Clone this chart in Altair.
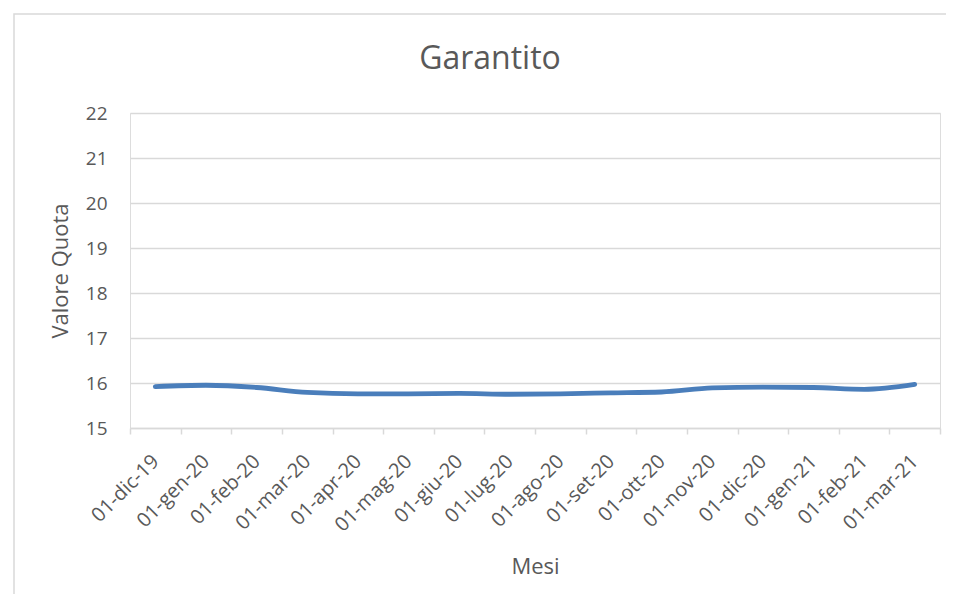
import altair as alt
import pandas as pd

mesi = ["01-dic-19", "01-gen-20", "01-feb-20", "01-mar-20", "01-apr-20", "01-mag-20",
        "01-giu-20", "01-lug-20", "01-ago-20", "01-set-20", "01-ott-20", "01-nov-20",
        "01-dic-20", "01-gen-21", "01-feb-21", "01-mar-21"]
valori = [15.92, 15.95, 15.90, 15.79, 15.76, 15.76, 15.77, 15.75,
          15.76, 15.78, 15.80, 15.89, 15.91, 15.90, 15.86, 15.97]
titolo = "Garantito"

df = pd.DataFrame({"Mesi": mesi, "Valore Quota": valori})

FONT = "Open Sans"
GREY = "#595959"
GRID = "#d9d9d9"

line = alt.Chart(df).mark_line(
    color="#4a7ebb", strokeWidth=4.8, strokeCap="round", strokeJoin="round",
    interpolate="monotone"
).encode(
    x=alt.X("Mesi:N", sort=None, bandPosition=0.5,
            scale=alt.Scale(type="band", paddingInner=0, paddingOuter=0),
            axis=alt.Axis(title="Mesi", labelAngle=-45, labelAlign="right",
                          labelBaseline="middle", labelPadding=24,
                          labelFont=FONT, labelFontSize=20, labelColor=GREY,
                          titleFont=FONT, titleFontSize=22, titleColor=GREY,
                          titleFontWeight="normal", titleY=145,
                          titleBaseline="alphabetic",
                          tickBand="extent", ticks=True, tickSize=6,
                          tickColor=GRID, tickWidth=1.5,
                          domainColor=GRID, domainWidth=1.5, grid=False)),
    y=alt.Y("Valore Quota:Q",
            scale=alt.Scale(domain=[15, 22], nice=False, zero=False),
            axis=alt.Axis(title="Valore Quota", values=list(range(15, 23)),
                          labelFont=FONT, labelFontSize=19, labelColor=GREY,
                          labelPadding=23,
                          titleFont=FONT, titleFontSize=22, titleColor=GREY,
                          titleFontWeight="normal", titleX=-63,
                          titleBaseline="alphabetic",
                          domain=False, ticks=False, grid=True,
                          gridColor=GRID, gridWidth=1.5)),
)

title = alt.Chart(alt.Data(values=[{}])).mark_text(
    font=FONT, fontSize=32, color=GREY, align="center", baseline="alphabetic"
).encode(text=alt.value(titolo), x=alt.value(360), y=alt.value(-44))

border = alt.Chart(alt.Data(values=[{}])).mark_rect(
    filled=False, stroke=GRID, strokeWidth=1.5
).encode(
    x=alt.value(-116), x2=alt.value(840), y=alt.value(-99), y2=alt.value(490)
)

chart = alt.layer(border, line, title).properties(
    width=810, height=315,
    autosize=alt.AutoSizeParams(type="none"),
    padding={"left": 122, "top": 105, "right": 6, "bottom": 166},
).configure_view(stroke=None).configure(background="white")

chart.save("out.html", embed_options={"renderer": "svg", "actions": False})
